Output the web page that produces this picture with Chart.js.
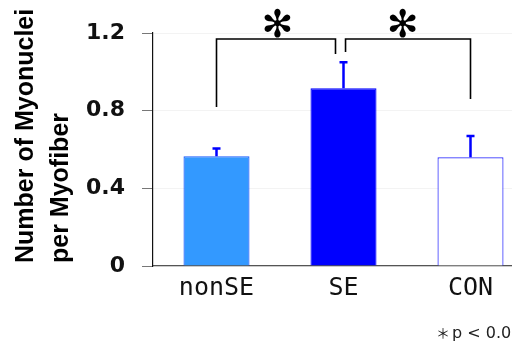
<!DOCTYPE html>
<html>
<head>
<meta charset="utf-8">
<script src="https://cdn.jsdelivr.net/npm/chart.js@4/dist/chart.umd.min.js"></script>
<style>
  html, body { margin: 0; padding: 0; background: #fff; overflow: hidden; width: 512px; height: 344px; }
  #wrap { width: 540px; height: 344px; }
</style>
</head>
<body>
<div id="wrap"><canvas id="c" width="540" height="344"></canvas></div>
<script>
// ---- data ----
const categories = ["nonSE", "SE", "CON"];
const means = [0.565, 0.915, 0.56];
const sdUpper = [0.04, 0.135, 0.11];
const yTicks = [0, 0.4, 0.8, 1.2];
const yTitleLines = ["Number of Myonuclei", "per Myofiber"];
const footStar = "＊";
const footText = "p < 0.05";
// significance brackets
const bracketFrom = [0, 1.016];
const bracketTo = [0.937, 2];
const bracketTop = [1.169, 1.169];
const bracketLeftFoot = [0.819, 1.102];
const bracketRightFoot = [1.092, 0.86];
const starPos = [0.48, 1.465];
const starLabel = "✻";

const barFill = ["#3399ff", "#0000ff", "#ffffff"];
const barBorder = ["#1a5cff", "#0000ff", "#2a2aff"];

function xAt(xs, f) {
  const p0 = xs.getPixelForValue(0), p1 = xs.getPixelForValue(1);
  return p0 + f * (p1 - p0);
}

const extras = {
  id: 'extras',
  afterDatasetsDraw(chart) {
    const ctx = chart.ctx;
    const xs = chart.scales.x, ys = chart.scales.y;
    const meta = chart.getDatasetMeta(0);
    ctx.save();
    ctx.strokeStyle = "#0000ff";
    ctx.lineWidth = 2.5;
    meta.data.forEach((bar, i) => {
      const x = bar.x;
      const y0 = ys.getPixelForValue(means[i]);
      const y1 = ys.getPixelForValue(means[i] + sdUpper[i]);
      ctx.beginPath();
      ctx.moveTo(x, y0); ctx.lineTo(x, y1);
      ctx.moveTo(x - 4, y1); ctx.lineTo(x + 4, y1);
      ctx.stroke();
    });
    ctx.restore();
    ctx.save();
    ctx.strokeStyle = "#000";
    ctx.lineWidth = 1.6;
    for (let k = 0; k < bracketFrom.length; k++) {
      const xa = xAt(xs, bracketFrom[k]), xb = xAt(xs, bracketTo[k]);
      const yt = ys.getPixelForValue(bracketTop[k]);
      const yl = ys.getPixelForValue(bracketLeftFoot[k]);
      const yr = ys.getPixelForValue(bracketRightFoot[k]);
      ctx.beginPath();
      ctx.moveTo(xa, yl); ctx.lineTo(xa, yt); ctx.lineTo(xb, yt); ctx.lineTo(xb, yr);
      ctx.stroke();
      ctx.fillStyle = "#000";
      ctx.font = "38px 'DejaVu Sans'";
      ctx.textAlign = "center";
      ctx.textBaseline = "middle";
      ctx.fillText(starLabel, xAt(xs, starPos[k]), yt - 12);
    }
    ctx.restore();
  },
  afterDraw(chart) {
    const ctx = chart.ctx;
    const ys = chart.scales.y;
    ctx.save();
    ctx.fillStyle = "#000";
    ctx.font = "bold 25px 'Liberation Sans', Arial, sans-serif";
    ctx.textAlign = "left";
    ctx.textBaseline = "alphabetic";
    const bottom = ys.bottom - 3;
    [33, 68].forEach((bx, i) => {
      ctx.save();
      ctx.translate(bx, bottom);
      ctx.rotate(-Math.PI / 2);
      ctx.fillText(yTitleLines[i], 0, 0);
      ctx.restore();
    });
    ctx.fillStyle = "#222";
    ctx.font = "14px 'Noto Sans CJK JP', sans-serif";
    ctx.fillText(footStar, 436, 338);
    ctx.font = "16px 'DejaVu Sans', sans-serif";
    ctx.fillText(footText, 452, 338);
    ctx.restore();
  }
};

new Chart(document.getElementById('c'), {
  type: 'bar',
  data: {
    labels: categories,
    datasets: [{
      data: means,
      backgroundColor: barFill,
      borderColor: barBorder,
      borderWidth: 1.2,
      barPercentage: 0.52,
      categoryPercentage: 1.0
    }]
  },
  options: {
    responsive: false,
    devicePixelRatio: 1,
    animation: false,
    layout: { padding: { top: 33, right: 6, left: 0, bottom: 0 } },
    plugins: { legend: { display: false }, tooltip: { enabled: false } },
    scales: {
      x: {
        grid: { display: false, drawTicks: false },
        border: { display: true, color: '#555', width: 1.2 },
        ticks: {
          font: { family: "'DejaVu Sans Mono', monospace", size: 25 },
          color: '#111',
          padding: 7,
          maxRotation: 0
        },
        afterFit(s) { s.height = 78; }
      },
      y: {
        min: 0, max: 1.2,
        afterBuildTicks(s) { s.ticks = yTicks.map(v => ({ value: v })); },
        ticks: {
          font: { family: "'DejaVu Sans', sans-serif", size: 22, weight: 'bold' },
          color: '#111',
          padding: 17,
          callback: v => v === 0 ? '0' : v.toFixed(1)
        },
        grid: { color: '#f3f3f3', tickColor: '#777', tickLength: 11, lineWidth: 1 },
        border: { display: true, color: '#111', width: 1.2 },
        afterFit(s) { s.width = 153; }
      }
    }
  },
  plugins: [extras]
});
</script>
</body>
</html>
